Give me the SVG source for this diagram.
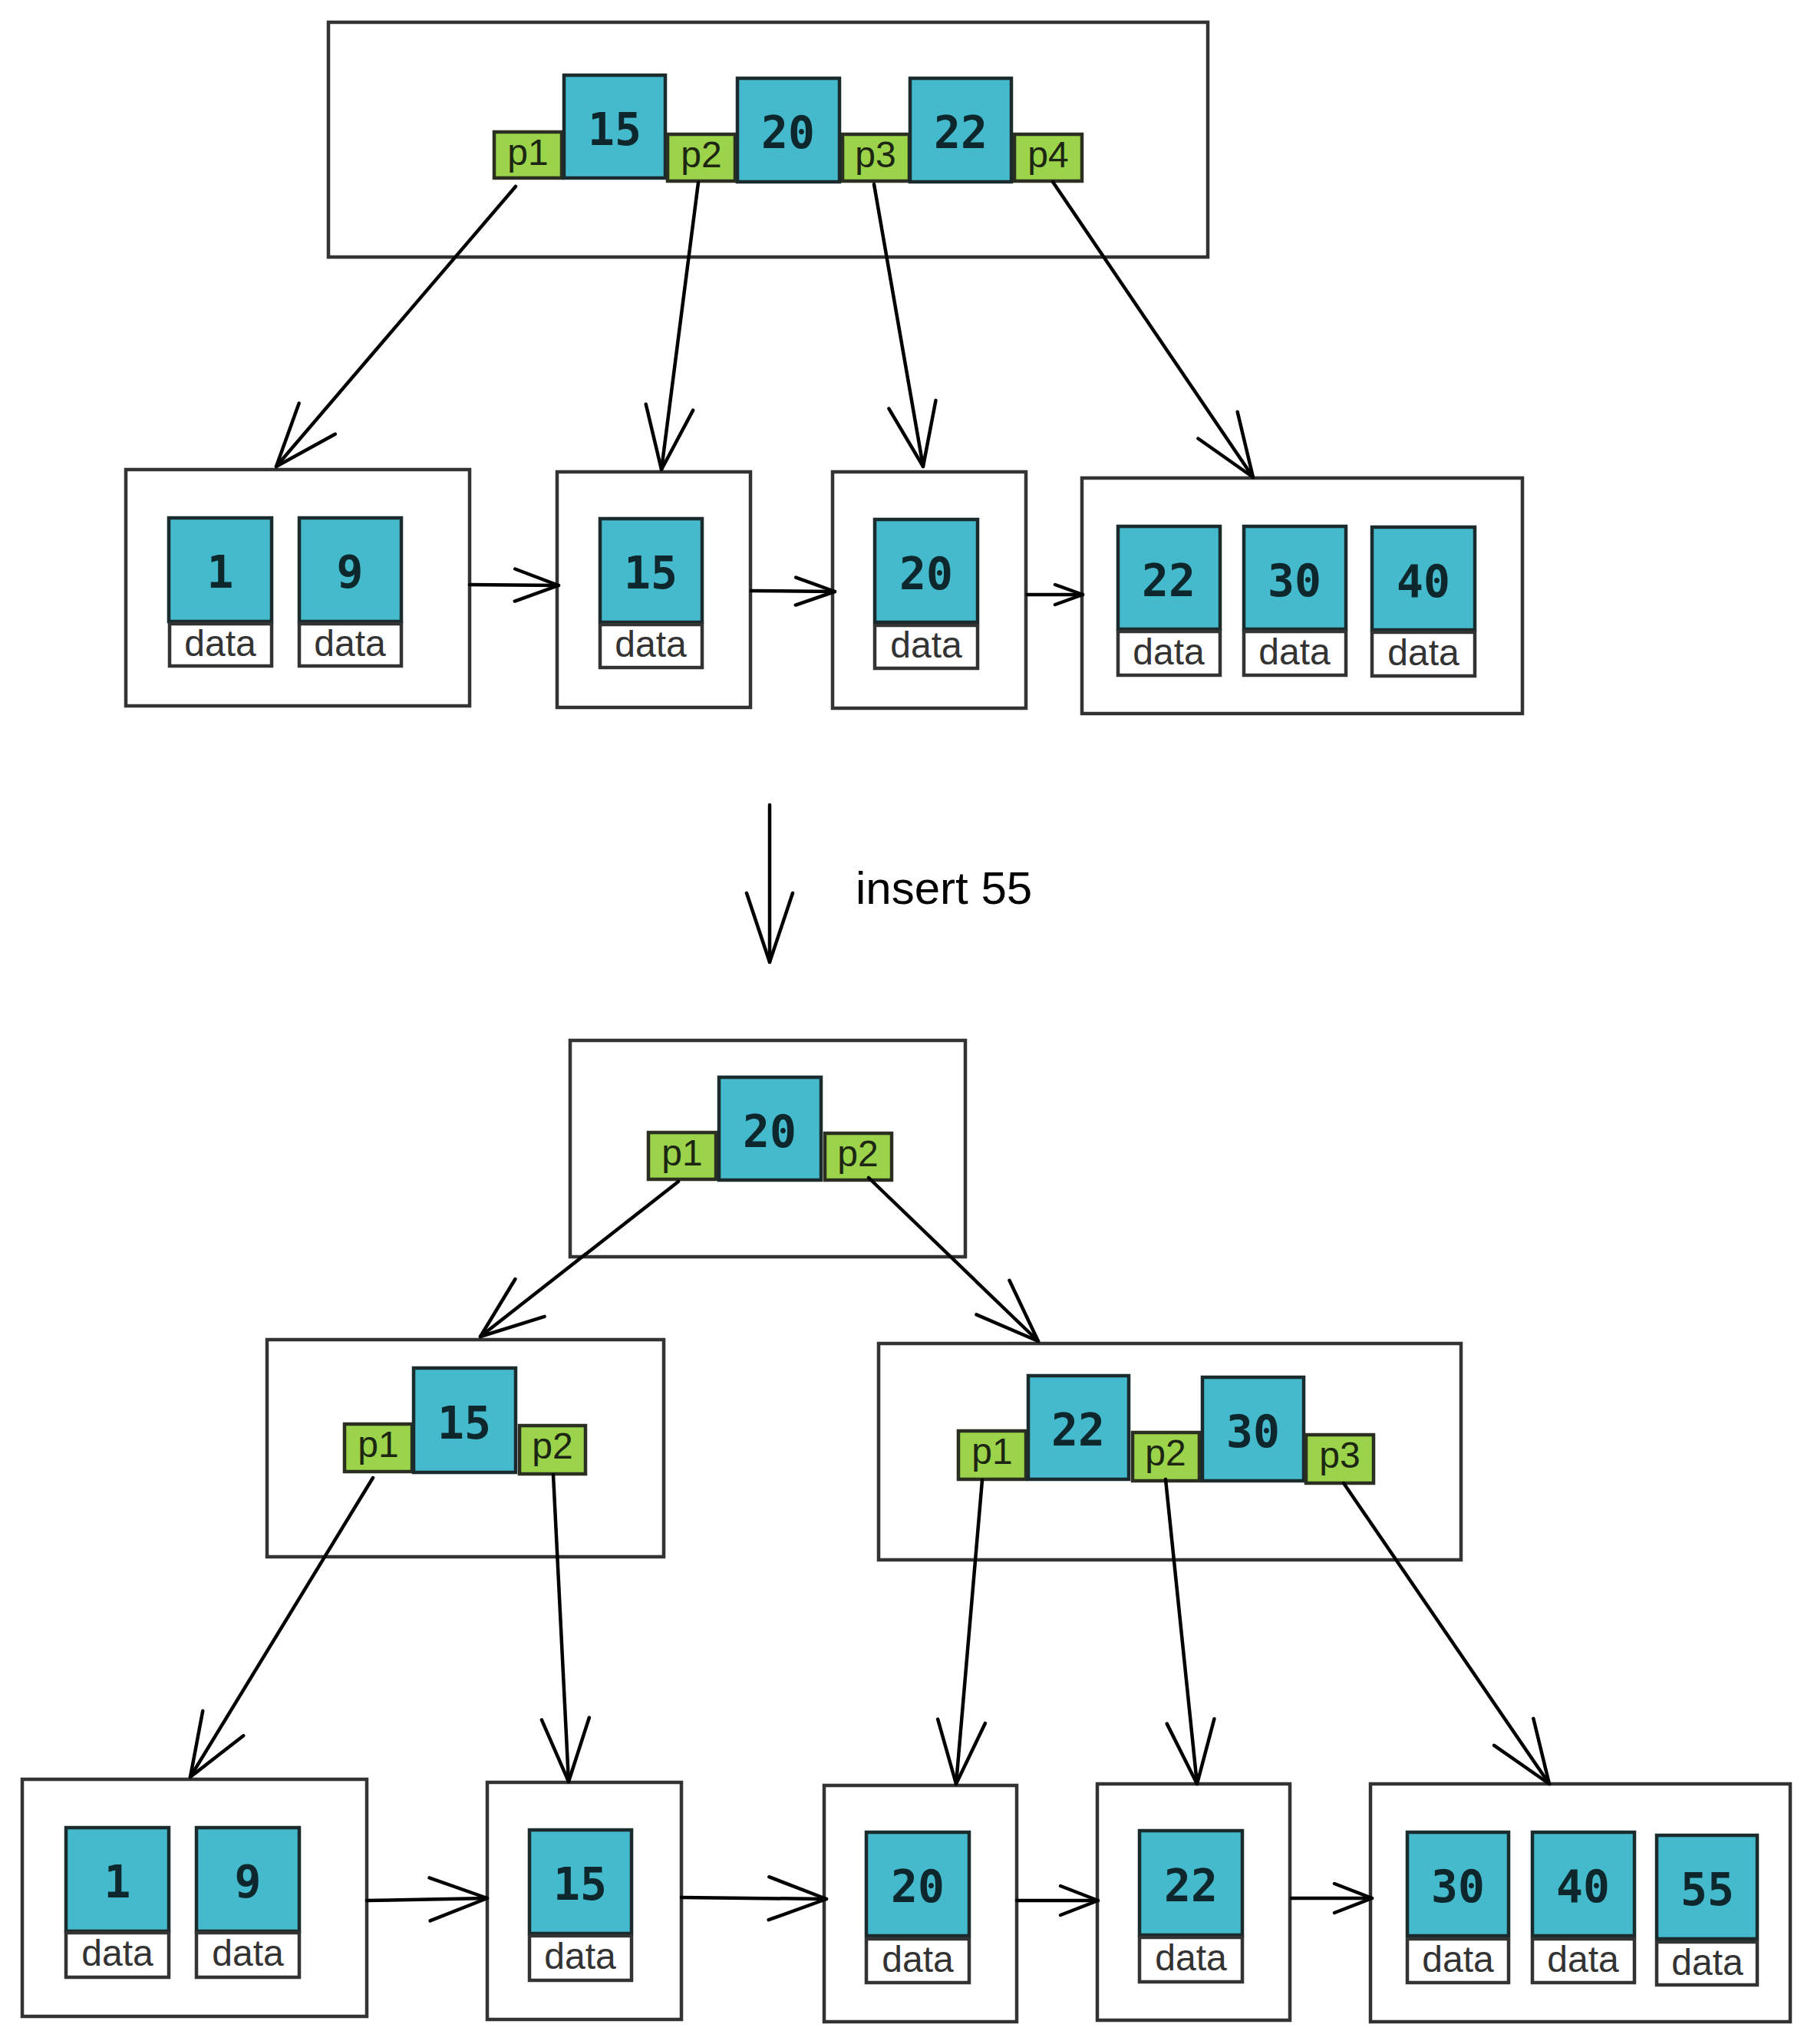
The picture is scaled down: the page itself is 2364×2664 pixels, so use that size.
<svg xmlns="http://www.w3.org/2000/svg" width="2364" height="2664" viewBox="0 0 2364 2664">
<style>
.frame{fill:#fff;stroke:#333;stroke-width:4.5}
.key{fill:#44bacc;stroke:#1b2a2d;stroke-width:4.5}
.ptr{fill:#9bd34b;stroke:#2a2f22;stroke-width:4.5}
.dat{fill:#fff;stroke:#333;stroke-width:4.5}
.kt{font-family:"DejaVu Sans Mono",monospace;font-weight:bold;font-size:58px;fill:#0e272c;text-anchor:middle}
.pt{font-family:"Liberation Sans",Arial,sans-serif;font-size:48px;fill:#1c2612;text-anchor:middle}
.dt{font-family:"Liberation Sans",Arial,sans-serif;font-size:48px;fill:#333;text-anchor:middle}
.lbl{font-family:"Liberation Sans",Arial,sans-serif;font-size:60px;fill:#000}
.edge{stroke:#000;stroke-width:4.5;fill:none;stroke-linecap:round}
.head{stroke:#000;stroke-width:4.5;fill:none;stroke-linecap:round;stroke-linejoin:round}
</style>
<defs>
<marker id="hBig" markerUnits="userSpaceOnUse" orient="auto" refX="0" refY="0" markerWidth="200" markerHeight="200" viewBox="-100 -100 200 200" overflow="visible"><path class="head" d="M-82,-31 L0,0 L-82,31"/></marker>
<marker id="hHuge" markerUnits="userSpaceOnUse" orient="auto" refX="0" refY="0" markerWidth="200" markerHeight="200" viewBox="-100 -100 200 200" overflow="visible"><path class="head" d="M-90,-30 L0,0 L-90,30"/></marker>
<marker id="h75" markerUnits="userSpaceOnUse" orient="auto" refX="0" refY="0" markerWidth="200" markerHeight="200" viewBox="-100 -100 200 200" overflow="visible"><path class="head" d="M-75,-28 L0,0 L-75,28"/></marker>
<marker id="h57" markerUnits="userSpaceOnUse" orient="auto" refX="0" refY="0" markerWidth="200" markerHeight="200" viewBox="-100 -100 200 200" overflow="visible"><path class="head" d="M-57,-21 L0,0 L-57,21"/></marker>
<marker id="h51" markerUnits="userSpaceOnUse" orient="auto" refX="0" refY="0" markerWidth="200" markerHeight="200" viewBox="-100 -100 200 200" overflow="visible"><path class="head" d="M-51,-18 L0,0 L-51,18"/></marker>
<marker id="h49" markerUnits="userSpaceOnUse" orient="auto" refX="0" refY="0" markerWidth="200" markerHeight="200" viewBox="-100 -100 200 200" overflow="visible"><path class="head" d="M-49,-19 L0,0 L-49,19"/></marker>
<marker id="h36" markerUnits="userSpaceOnUse" orient="auto" refX="0" refY="0" markerWidth="200" markerHeight="200" viewBox="-100 -100 200 200" overflow="visible"><path class="head" d="M-36,-13 L0,0 L-36,13"/></marker>
</defs>
<rect width="2364" height="2664" fill="#fff"/>

<!-- ===== Top tree ===== -->
<g id="root1">
<rect class="frame" x="428" y="29" width="1146" height="306"/>
<rect class="ptr" x="644" y="172" width="88" height="60"/><text class="pt" x="688" y="215">p1</text>
<rect class="key" x="735" y="98" width="132" height="134"/><text class="kt" x="801" y="189">15</text>
<rect class="ptr" x="870" y="175" width="88" height="61"/><text class="pt" x="914" y="218">p2</text>
<rect class="key" x="961" y="102" width="133" height="135"/><text class="kt" x="1027" y="193">20</text>
<rect class="ptr" x="1098" y="175" width="87" height="61"/><text class="pt" x="1141" y="218">p3</text>
<rect class="key" x="1186" y="102" width="132" height="135"/><text class="kt" x="1252" y="193">22</text>
<rect class="ptr" x="1322" y="175" width="88" height="61"/><text class="pt" x="1366" y="218">p4</text>
</g>

<g id="leafA">
<rect class="frame" x="164" y="612" width="448" height="308"/>
<rect class="key" x="220" y="675" width="134" height="135"/><text class="kt" x="287" y="766">1</text>
<rect class="dat" x="221" y="813" width="133" height="55"/><text class="dt" x="287" y="855">data</text>
<rect class="key" x="390" y="675" width="133" height="135"/><text class="kt" x="456" y="766">9</text>
<rect class="dat" x="390" y="813" width="133" height="55"/><text class="dt" x="456" y="855">data</text>
</g>

<g id="leafB">
<rect class="frame" x="726" y="615" width="252" height="307"/>
<rect class="key" x="782" y="676" width="133" height="135"/><text class="kt" x="848" y="767">15</text>
<rect class="dat" x="782" y="814" width="133" height="56"/><text class="dt" x="848" y="856">data</text>
</g>

<g id="leafC">
<rect class="frame" x="1085" y="615" width="252" height="308"/>
<rect class="key" x="1140" y="677" width="134" height="134"/><text class="kt" x="1207" y="768">20</text>
<rect class="dat" x="1140" y="815" width="134" height="56"/><text class="dt" x="1207" y="857">data</text>
</g>

<g id="leafD">
<rect class="frame" x="1410" y="623" width="574" height="307"/>
<rect class="key" x="1457" y="686" width="133" height="134"/><text class="kt" x="1523" y="777">22</text>
<rect class="dat" x="1457" y="823" width="133" height="57"/><text class="dt" x="1523" y="866">data</text>
<rect class="key" x="1621" y="686" width="133" height="134"/><text class="kt" x="1687" y="777">30</text>
<rect class="dat" x="1621" y="823" width="133" height="57"/><text class="dt" x="1687" y="866">data</text>
<rect class="key" x="1788" y="687" width="134" height="134"/><text class="kt" x="1855" y="778">40</text>
<rect class="dat" x="1788" y="824" width="134" height="57"/><text class="dt" x="1855" y="867">data</text>
</g>

<!-- ===== Bottom tree ===== -->
<g id="root2">
<rect class="frame" x="743" y="1356" width="515" height="282"/>
<rect class="ptr" x="845" y="1476" width="88" height="61"/><text class="pt" x="889" y="1519">p1</text>
<rect class="key" x="937" y="1404" width="133" height="134"/><text class="kt" x="1003" y="1495">20</text>
<rect class="ptr" x="1075" y="1477" width="87" height="61"/><text class="pt" x="1118" y="1520">p2</text>
</g>

<g id="midLeft">
<rect class="frame" x="348" y="1746" width="517" height="283"/>
<rect class="ptr" x="449" y="1856" width="88" height="62"/><text class="pt" x="493" y="1899">p1</text>
<rect class="key" x="539" y="1783" width="133" height="136"/><text class="kt" x="605" y="1875">15</text>
<rect class="ptr" x="677" y="1858" width="86" height="63"/><text class="pt" x="720" y="1901">p2</text>
</g>

<g id="midRight">
<rect class="frame" x="1145" y="1751" width="759" height="282"/>
<rect class="ptr" x="1249" y="1865" width="88" height="63"/><text class="pt" x="1293" y="1908">p1</text>
<rect class="key" x="1340" y="1793" width="131" height="135"/><text class="kt" x="1405" y="1884">22</text>
<rect class="ptr" x="1476" y="1867" width="87" height="63"/><text class="pt" x="1519" y="1910">p2</text>
<rect class="key" x="1567" y="1795" width="132" height="135"/><text class="kt" x="1633" y="1886">30</text>
<rect class="ptr" x="1702" y="1870" width="88" height="63"/><text class="pt" x="1746" y="1913">p3</text>
</g>

<g id="leaf1">
<rect class="frame" x="29" y="2319" width="449" height="309"/>
<rect class="key" x="86" y="2382" width="134" height="135"/><text class="kt" x="153" y="2473">1</text>
<rect class="dat" x="86" y="2519" width="134" height="58"/><text class="dt" x="153" y="2562">data</text>
<rect class="key" x="256" y="2382" width="134" height="135"/><text class="kt" x="323" y="2473">9</text>
<rect class="dat" x="256" y="2519" width="134" height="58"/><text class="dt" x="323" y="2562">data</text>
</g>

<g id="leaf2">
<rect class="frame" x="635" y="2323" width="253" height="309"/>
<rect class="key" x="690" y="2385" width="133" height="135"/><text class="kt" x="756" y="2476">15</text>
<rect class="dat" x="690" y="2523" width="133" height="58"/><text class="dt" x="756" y="2566">data</text>
</g>

<g id="leaf3">
<rect class="frame" x="1074" y="2327" width="251" height="308"/>
<rect class="key" x="1129" y="2388" width="134" height="135"/><text class="kt" x="1196" y="2479">20</text>
<rect class="dat" x="1129" y="2527" width="134" height="57"/><text class="dt" x="1196" y="2570">data</text>
</g>

<g id="leaf4">
<rect class="frame" x="1430" y="2325" width="251" height="308"/>
<rect class="key" x="1485" y="2386" width="134" height="136"/><text class="kt" x="1552" y="2478">22</text>
<rect class="dat" x="1485" y="2525" width="134" height="58"/><text class="dt" x="1552" y="2568">data</text>
</g>

<g id="leaf5">
<rect class="frame" x="1786" y="2325" width="547" height="310"/>
<rect class="key" x="1834" y="2388" width="132" height="135"/><text class="kt" x="1900" y="2479">30</text>
<rect class="dat" x="1834" y="2527" width="132" height="57"/><text class="dt" x="1900" y="2570">data</text>
<rect class="key" x="1997" y="2388" width="133" height="135"/><text class="kt" x="2063" y="2479">40</text>
<rect class="dat" x="1997" y="2527" width="133" height="57"/><text class="dt" x="2063" y="2570">data</text>
<rect class="key" x="2159" y="2392" width="131" height="135"/><text class="kt" x="2225" y="2483">55</text>
<rect class="dat" x="2159" y="2531" width="131" height="56"/><text class="dt" x="2225" y="2574">data</text>
</g>

<g id="label">
<text class="lbl" x="1115" y="1178">insert 55</text>
</g>

<g id="connectors">
<path class="edge" d="M672,243 L360,608" marker-end="url(#hBig)"/>
<path class="edge" d="M910,238 L862,612" marker-end="url(#hBig)"/>
<path class="edge" d="M1139,240 L1203,608" marker-end="url(#hBig)"/>
<path class="edge" d="M1372,237 L1633,622" marker-end="url(#hBig)"/>
<path class="edge" d="M612,762 L728,763" marker-end="url(#h57)"/>
<path class="edge" d="M979,770 L1088,771" marker-end="url(#h51)"/>
<path class="edge" d="M1339,775 L1411,775" marker-end="url(#h36)"/>
<path class="edge" d="M1003,1049 L1003,1254" marker-end="url(#hHuge)"/>
<path class="edge" d="M884,1540 L626,1742" marker-end="url(#hBig)"/>
<path class="edge" d="M1132,1535 L1353,1748" marker-end="url(#hBig)"/>
<path class="edge" d="M486,1926 L248,2316" marker-end="url(#hBig)"/>
<path class="edge" d="M721,1922 L741,2322" marker-end="url(#hBig)"/>
<path class="edge" d="M1280,1929 L1246,2325" marker-end="url(#hBig)"/>
<path class="edge" d="M1519,1928 L1560,2325" marker-end="url(#hBig)"/>
<path class="edge" d="M1751,1933 L2019,2325" marker-end="url(#hBig)"/>
<path class="edge" d="M478,2477 L635,2474" marker-end="url(#h75)"/>
<path class="edge" d="M888,2473 L1077,2475" marker-end="url(#h75)"/>
<path class="edge" d="M1325,2477 L1431,2477" marker-end="url(#h49)"/>
<path class="edge" d="M1683,2474 L1788,2474" marker-end="url(#h49)"/>
</g>
</svg>
